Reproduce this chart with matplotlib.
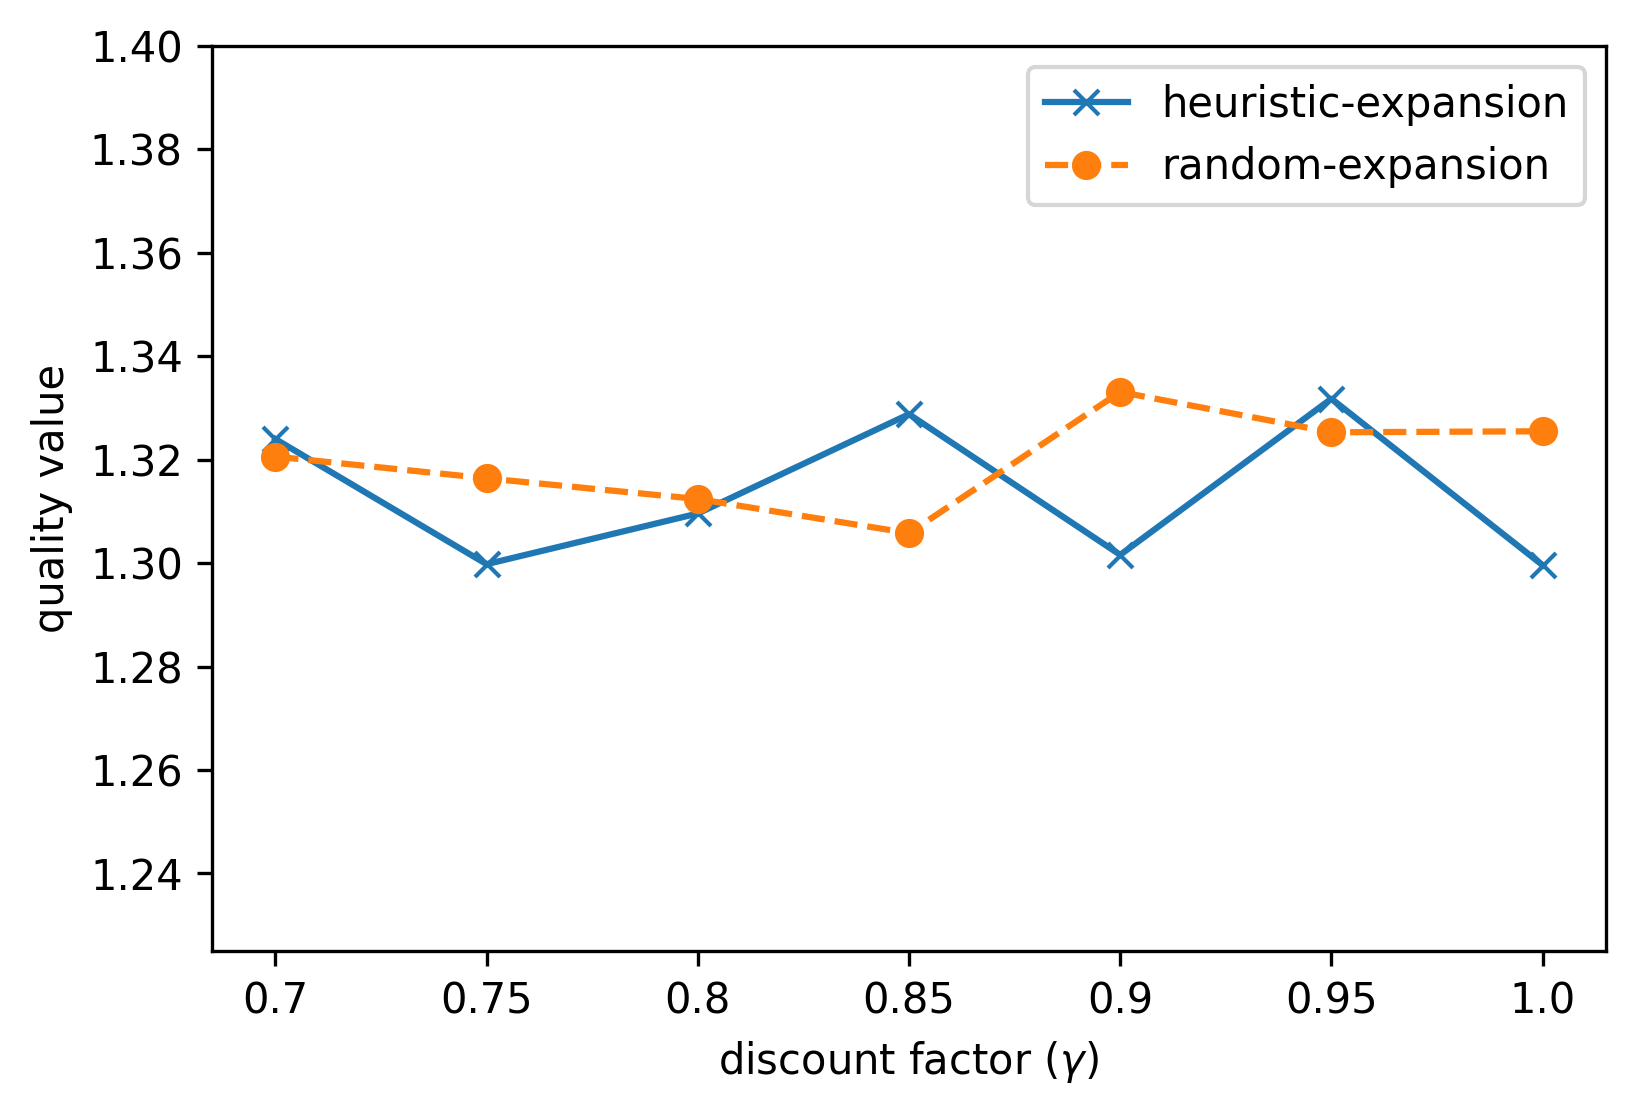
import matplotlib
matplotlib.use("Agg")
import matplotlib.pyplot as plt

gamma = [0.7, 0.75, 0.8, 0.85, 0.9, 0.95, 1.0]
x_labels = ["0.7", "0.75", "0.8", "0.85", "0.9", "0.95", "1.0"]
heuristic = [1.3240, 1.2998, 1.3096, 1.3288, 1.3016, 1.3318, 1.2996]
random_exp = [1.3206, 1.3164, 1.3124, 1.3058, 1.3331, 1.3253, 1.3255]

fig = plt.figure(figsize=(1635 / 300, 1116 / 300), dpi=300)
ax = fig.add_axes([212 / 1635, 1 - 951 / 1116, (1606 - 212) / 1635, (951 - 46) / 1116])

ax.plot(gamma, heuristic, marker="x", linestyle="-", color="#1f77b4", label="heuristic-expansion")
ax.plot(gamma, random_exp, marker="o", linestyle="--", color="#ff7f0e", label="random-expansion")

ax.set_xticks(gamma)
ax.set_xticklabels(x_labels)
ax.set_ylim(1.225, 1.40)
ax.set_yticks([1.24, 1.26, 1.28, 1.30, 1.32, 1.34, 1.36, 1.38, 1.40])
ax.set_xlabel(r"discount factor ($\gamma$)")
ax.set_ylabel("quality value")
ax.legend(loc="upper right")

fig.savefig("out.png", dpi=300)
